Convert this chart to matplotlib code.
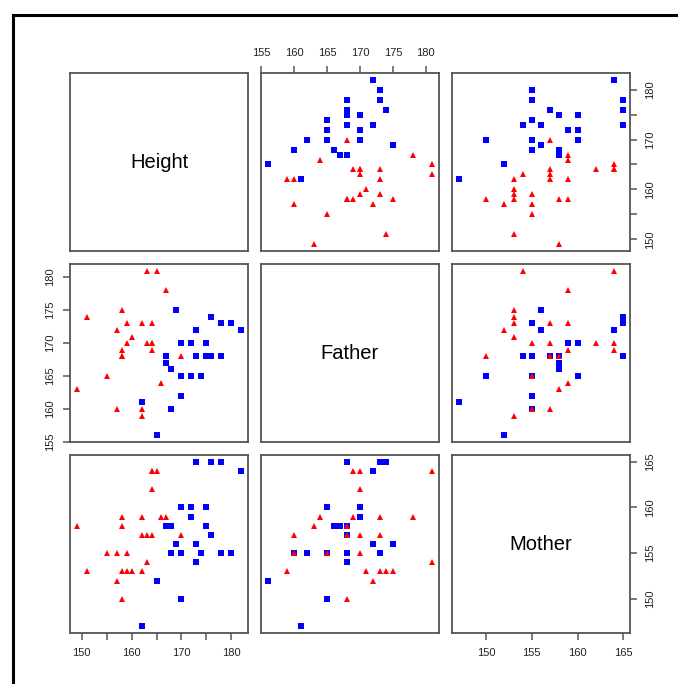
import matplotlib
matplotlib.use("Agg")
import matplotlib.pyplot as plt
from matplotlib.lines import Line2D
import numpy as np

plt.rcParams['font.family'] = ['Liberation Sans', 'DejaVu Sans']

# ---- data ----
variables = ["Height", "Father", "Mother"]

male_height = [182, 180, 178, 178, 176, 176, 175, 175, 174, 173, 173, 173,
               172, 172, 170, 170, 170, 169, 168, 168, 167, 167, 165, 162]
male_father = [172, 173, 173, 168, 174, 168, 168, 170, 165, 168, 172, 168,
               165, 170, 162, 165, 170, 175, 160, 166, 167, 168, 156, 161]
male_mother = [164, 155, 165, 155, 165, 157, 158, 160, 155, 154, 156, 165,
               160, 159, 155, 150, 160, 156, 155, 158, 158, 158, 152, 147]

female_height = [163, 165, 167, 158, 151, 157, 159, 162, 164, 160, 159, 163, 164,
                 158, 164, 158, 170, 155, 166, 149, 157, 162, 162, 158, 164]
female_father = [181, 181, 178, 175, 174, 172, 173, 173, 173, 171, 170, 170, 170,
                 169, 169, 168, 168, 165, 164, 163, 160, 160, 159, 168, 170]
female_mother = [154, 164, 159, 153, 153, 152, 153, 159, 157, 153, 155, 157, 162,
                 159, 164, 158, 157, 155, 159, 158, 155, 157, 153, 150, 164]

height_ticks = [150, 155, 160, 165, 170, 175, 180]
height_labels = ["150", "", "160", "", "170", "", "180"]
father_ticks = [155, 160, 165, 170, 175, 180]
father_labels = ["155", "160", "165", "170", "175", "180"]
mother_ticks = [150, 155, 160, 165]
mother_labels = ["150", "155", "160", "165"]

male = [male_height, male_father, male_mother]
female = [female_height, female_father, female_mother]
ticks = [height_ticks, father_ticks, mother_ticks]
labels = [height_labels, father_labels, mother_labels]

def rng(i):
    v = np.array(male[i] + female[i], dtype=float)
    lo, hi = v.min(), v.max()
    d = (hi - lo) * 0.04
    return lo - d, hi + d

W, H = 678, 684
fig = plt.figure(figsize=(W / 100, H / 100), dpi=100)

lefts = [70, 261, 452]
tops = [73, 264, 455]
size = 178

frame_col = "#555555"
for r in range(3):
    for c in range(3):
        ax = fig.add_axes([lefts[c] / W, 1 - (tops[r] + size) / H, size / W, size / H])
        for s in ax.spines.values():
            s.set_color(frame_col)
            s.set_linewidth(1.3)
        ax.set_xlim(*rng(c))
        ax.set_ylim(*rng(r))
        ax.set_xticks([])
        ax.set_yticks([])
        ax.tick_params(colors=frame_col, length=5, width=1.1, labelsize=8,
                       labelcolor="#222222", pad=6)
        if r == c:
            ax.text(0.5, 0.5, variables[r], transform=ax.transAxes,
                    ha="center", va="center", fontsize=14.5, color="black")
        else:
            ax.plot(male[c], male[r], linestyle="none", marker="s",
                    markersize=3.9, color="#0000ff", markeredgewidth=0)
            ax.plot(female[c], female[r], linestyle="none", marker="^",
                    markersize=4.4, color="#ff0000", markeredgewidth=0)
        # axes in R pairs() style
        if r == 0 and c == 1:
            ax.xaxis.set_ticks_position("top")
            ax.set_xticks(ticks[c])
            ax.set_xticklabels(labels[c])
        if r == 2 and c in (0, 2):
            ax.xaxis.set_ticks_position("bottom")
            ax.set_xticks(ticks[c])
            ax.set_xticklabels(labels[c])
        if c == 0 and r == 1:
            ax.yaxis.set_ticks_position("left")
            ax.set_yticks(ticks[r])
            ax.set_yticklabels(labels[r], rotation=90, va="center")
        if c == 2 and r in (0, 2):
            ax.yaxis.set_ticks_position("right")
            ax.set_yticks(ticks[r])
            ax.set_yticklabels(labels[r], rotation=90, va="center")

# outer black border (partially off-canvas)
x0 = 12.5 / W
y0 = 1 - 14.5 / H
fig.add_artist(Line2D([x0, x0], [y0, -0.1], transform=fig.transFigure,
                      color="black", linewidth=2.2))
fig.add_artist(Line2D([x0, 1.1], [y0, y0], transform=fig.transFigure,
                      color="black", linewidth=2.2))

fig.savefig("out.png", dpi=100, facecolor="white")
